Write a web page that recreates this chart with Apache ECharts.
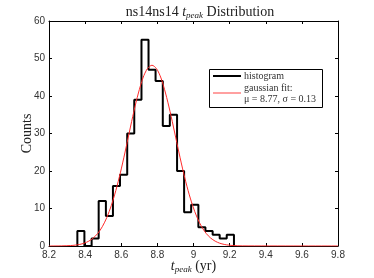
<!DOCTYPE html>
<html>
<head>
<meta charset="utf-8">
<script src="https://cdn.jsdelivr.net/npm/echarts@6/dist/echarts.min.js"></script>
<style>html,body{margin:0;padding:0;background:#fff}#c{width:374px;height:278px}</style>
</head>
<body>
<div id="c"></div>
<script>
// Histogram bin edges (yr) and counts
var binEdges = [8.357, 8.396, 8.436, 8.475, 8.515, 8.554, 8.593, 8.633, 8.672, 8.712, 8.751, 8.790, 8.830, 8.869, 8.909, 8.948, 8.987, 9.027, 9.066, 9.106, 9.145, 9.184, 9.224];
var binCounts = [4, 0, 2, 12, 8, 16, 19, 30, 39, 55, 47, 44, 32, 35, 20, 9, 11, 5, 4, 3, 2, 3];
// Gaussian fit curve samples (mu = 8.77, sigma = 0.13)
var fitX = [8.2, 8.27, 8.32, 8.345, 8.37, 8.395, 8.42, 8.445, 8.47, 8.495, 8.52, 8.545, 8.57, 8.595, 8.62, 8.645, 8.67, 8.695, 8.72, 8.745, 8.77, 8.795, 8.82, 8.845, 8.87, 8.895, 8.92, 8.945, 8.97, 8.995, 9.02, 9.045, 9.07, 9.095, 9.12, 9.145, 9.17, 9.195, 9.22, 9.27, 9.8];
var fitY = [0, 0.03, 0.12, 0.23, 0.42, 0.75, 1.29, 2.12, 3.36, 5.14, 7.59, 10.8, 14.8, 19.5, 24.8, 30.4, 35.9, 40.8, 44.8, 47.3, 48.2, 47.3, 44.8, 40.8, 35.9, 30.4, 24.8, 19.5, 14.8, 10.8, 7.59, 5.14, 3.36, 2.12, 1.29, 0.75, 0.42, 0.23, 0.12, 0.03, 0];
var xTicks = [8.2, 8.4, 8.6, 8.8, 9, 9.2, 9.4, 9.6, 9.8];
var yTicks = [0, 10, 20, 30, 40, 50, 60];

var histPts = [[binEdges[0], 0]];
for (var i = 0; i < binCounts.length; i++) {
  histPts.push([binEdges[i], binCounts[i]]);
  histPts.push([binEdges[i + 1], binCounts[i]]);
}
histPts.push([binEdges[binEdges.length - 1], 0]);
var fitPts = fitX.map(function (x, i) { return [x, fitY[i]]; });

var serif = '"Liberation Serif","DejaVu Serif",serif';
var sans = '"Liberation Sans","DejaVu Sans",sans-serif';
var fmt = function (v) { return String(Math.round(v * 10) / 10); };

var chart = echarts.init(document.getElementById('c'), null, {renderer: 'canvas'});
var axisCommon = {
  axisLine: {show: true, onZero: false, lineStyle: {color: '#000', width: 1}},
  axisTick: {show: true, inside: true, length: 3, lineStyle: {color: '#000'}},
  splitLine: {show: false}
};
chart.setOption({
  animation: false,
  backgroundColor: '#fff',
  title: {
    text: 'ns14ns14 {i|t}{s|peak} Distribution',
    left: 195, top: -1, textAlign: 'center',
    textStyle: {
      fontFamily: serif, fontSize: 14, fontWeight: 'normal', color: '#222',
      rich: {
        i: {fontFamily: serif, fontStyle: 'italic', fontSize: 14, color: '#222'},
        s: {fontFamily: serif, fontStyle: 'italic', fontSize: 9, color: '#222', padding: [7, 0, 0, 0]}
      }
    }
  },
  grid: {left: 49, right: 36, top: 21, bottom: 32, outerBoundsMode: 'none', containLabel: false},
  xAxis: [
    Object.assign({type: 'value', min: 8.2, max: 9.8, interval: 0.2, position: 'bottom',
      axisLabel: {formatter: fmt, fontFamily: sans, fontSize: 10, color: '#333', margin: 4},
      name: '{i|t}{s|peak} ({r|yr})', nameLocation: 'middle', nameGap: 12, nameMoveOverlap: false,
      nameTextStyle: {fontFamily: serif, fontSize: 14, color: '#222',
        rich: {i: {fontFamily: serif, fontStyle: 'italic', fontSize: 14, color: '#222'},
               s: {fontFamily: serif, fontStyle: 'italic', fontSize: 9, color: '#222', padding: [7, 0, 0, 0]},
               r: {fontFamily: serif, fontSize: 14, color: '#222'}}}
    }, axisCommon),
    Object.assign({type: 'value', min: 8.2, max: 9.8, interval: 0.2, position: 'top',
      axisLabel: {show: false}}, axisCommon)
  ],
  yAxis: [
    Object.assign({type: 'value', min: 0, max: 60, interval: 10, position: 'left',
      axisLabel: {fontFamily: sans, fontSize: 10, color: '#333', margin: 4},
      name: 'Counts', nameLocation: 'middle', nameGap: 15, nameRotate: 90, nameMoveOverlap: false,
      nameTextStyle: {fontFamily: serif, fontSize: 14, color: '#222'}
    }, axisCommon),
    Object.assign({type: 'value', min: 0, max: 60, interval: 10, position: 'right',
      axisLabel: {show: false}}, axisCommon)
  ],
  series: [
    {name: 'histogram', type: 'line', data: histPts, showSymbol: false, symbol: 'none',
      lineStyle: {color: '#000', width: 2}, z: 2, clip: false},
    {name: 'gaussian fit', type: 'line', data: fitPts, showSymbol: false, symbol: 'none', smooth: 0.3,
      lineStyle: {color: '#ff2a2a', width: 1}, z: 3}
  ],
  graphic: [
    {type: 'rect', shape: {x: 209.5, y: 69.5, width: 113, height: 38},
      style: {fill: '#fff', stroke: '#000', lineWidth: 1}, z: 10},
    {type: 'line', shape: {x1: 213, y1: 76, x2: 241, y2: 76}, style: {stroke: '#000', lineWidth: 2}, z: 11},
    {type: 'line', shape: {x1: 213, y1: 93, x2: 241, y2: 93}, style: {stroke: '#ff8080', lineWidth: 1.5}, z: 11},
    {type: 'text', x: 244, y: 76, style: {text: 'histogram', font: '10px ' + serif, fill: '#333', textVerticalAlign: 'middle'}, z: 11},
    {type: 'text', x: 244, y: 88.5, style: {text: 'gaussian fit:', font: '10px ' + serif, fill: '#333', textVerticalAlign: 'middle'}, z: 11},
    {type: 'text', x: 244, y: 99.5, style: {text: 'μ = 8.77, σ = 0.13', font: '10px ' + serif, fill: '#333', textVerticalAlign: 'middle'}, z: 11}
  ]
});
</script>
</body>
</html>
